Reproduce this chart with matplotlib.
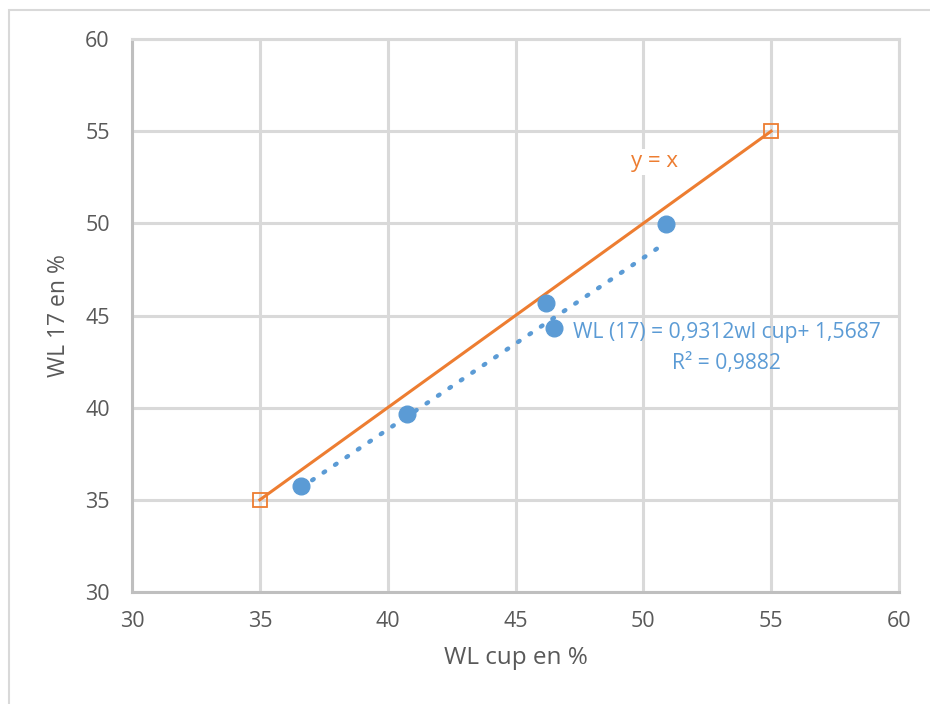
import numpy as np
import matplotlib.pyplot as plt
from matplotlib.patches import Rectangle

plt.rcParams['font.family'] = ['Open Sans', 'DejaVu Sans']

# Measured points
wl_cup = [36.6, 40.75, 46.2, 46.5, 50.9]
wl_17 = [35.75, 39.65, 45.7, 44.3, 49.95]

# Reference line y = x
ref_x = [35, 55]
ref_y = [35, 55]

# Linear trend from the chart label
slope = 0.9312
intercept = 1.5687

ticks = [30, 35, 40, 45, 50, 55, 60]

blue = '#5B9BD5'
orange = '#ED7D31'
grid = '#D9D9D9'
txt = '#595959'

fig = plt.figure(figsize=(9.3, 7.04), dpi=100)
# chart frame (only top/left edges fall inside the picture)
fig.patches.append(Rectangle((9/930, -0.05), 1.0, 1 - 10/704 + 0.05, transform=fig.transFigure,
                             fill=False, edgecolor='#D9D9D9', lw=1.5))
ax = fig.add_axes([132/930, 1 - 592/704, 767/930, 553/704])

ax.set_xlim(30, 60)
ax.set_ylim(30, 60)
ax.set_xticks(ticks)
ax.set_yticks(ticks)
ax.grid(True, color=grid, lw=2.2)
ax.set_axisbelow(True)
for s in ax.spines.values():
    s.set_color(grid)
    s.set_linewidth(2.2)
ax.spines['left'].set_color('#BFBFBF')
ax.spines['bottom'].set_color('#BFBFBF')
ax.tick_params(length=0, labelsize=15.5, labelcolor=txt)
ax.tick_params(axis='x', pad=14)
ax.tick_params(axis='y', pad=16)

# trendline
tx = np.array([min(wl_cup), max(wl_cup)])
ax.plot(tx, slope * tx + intercept, color=blue, lw=3.2, linestyle=(0, (0.4, 2.7)),
        dash_capstyle='round', zorder=3)

# y = x line
ax.plot(ref_x, ref_y, color=orange, lw=2.2, marker='s', markersize=9.5,
        markerfacecolor='none', markeredgecolor=orange, markeredgewidth=1.3, zorder=4)

ax.plot(wl_cup, wl_17, 'o', color=blue, markersize=12, zorder=5)

ax.text(50.45, 53.33, 'y = x', color=orange, fontsize=16, ha='center', va='center',
        bbox=dict(facecolor='white', edgecolor='none', pad=2), zorder=6)
ax.text(53.27, 44.1, 'WL (17) = 0,9312wl cup+ 1,5687', color=blue, fontsize=15.2,
        ha='center', va='center', zorder=6)
ax.text(53.27, 42.42, 'R² = 0,9882', color=blue, fontsize=15.2, ha='center', va='center', zorder=6)

ax.set_xlabel('WL cup en %', fontsize=17.5, color=txt, labelpad=10)
ax.set_ylabel('WL 17 en %', fontsize=16.5, color=txt, labelpad=10)

fig.savefig('out.png', dpi=100)
